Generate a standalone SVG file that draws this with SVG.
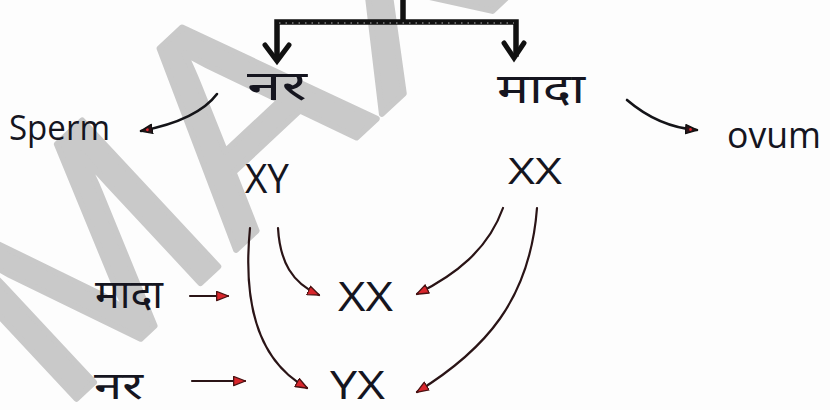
<svg xmlns="http://www.w3.org/2000/svg" width="830" height="410" viewBox="0 0 830 410">
  <style>
    .lbl { font-family: "Noto Sans", "DejaVu Sans", sans-serif; fill: #15151f; }
    .lat { font-family: "Open Sans", "Liberation Sans", sans-serif; fill: #15151f; }
    .wire { fill: none; stroke: #2a1416; stroke-width: 2.2; stroke-linecap: round; }
    .ink { fill: none; stroke: #141418; stroke-width: 2.6; stroke-linecap: round; }
    .bar { fill: none; stroke: #111; stroke-width: 5.5; stroke-linecap: square; stroke-linejoin: miter; }
  </style>
  <defs>
    <marker id="redTip" viewBox="0 0 12 10" refX="11" refY="5" markerWidth="13" markerHeight="11" markerUnits="userSpaceOnUse" orient="auto">
      <path d="M0.5,0.8 L11.5,5 L0.5,9.2 Z" fill="#d9262c" stroke="#4a1212" stroke-width="1.2" stroke-linejoin="round"/>
    </marker>
    <marker id="darkTip" viewBox="0 0 12 10" refX="11" refY="5" markerWidth="13" markerHeight="11" markerUnits="userSpaceOnUse" orient="auto">
      <path d="M0.5,0.8 L11.5,5 L0.5,9.2 Z" fill="#2a1418" stroke="#111" stroke-width="1.2" stroke-linejoin="round"/>
      <circle cx="5" cy="5" r="1.3" fill="#d9262c"/>
    </marker>
  </defs>

  <rect width="830" height="410" fill="#fdfdfd"/>

  <!-- faint watermark lettering behind the sketch -->
  <g id="watermark">
    <text x="59" y="415" transform="rotate(-43 59 415)" font-family="Liberation Sans, sans-serif" font-size="290" fill="#c9c9c9" stroke="#c9c9c9" stroke-width="6" stroke-linejoin="round">MAX</text>
  </g>

  <!-- split bracket at the top -->
  <g id="bracket">
    <path class="bar" d="M403,0 L403,21"/>
    <path class="bar" d="M277,58 L277,22 L516,22 L516,54"/>
    <path d="M279,23 L514,23" stroke="#ffffff" stroke-width="1" stroke-dasharray="1.5 5" opacity="0.7"/>
    <path d="M265,45 L277,61 L289,45" fill="none" stroke="#111" stroke-width="5" stroke-linejoin="miter" stroke-linecap="round"/>
    <path d="M504,43 L514,58 L524,43" fill="none" stroke="#111" stroke-width="5" stroke-linejoin="miter" stroke-linecap="round"/>
  </g>

  <g id="nar-top"><text class="lbl" x="247" y="100" font-size="42" textLength="60" lengthAdjust="spacingAndGlyphs">नर</text></g>
  <g id="mada-top"><text class="lbl" x="497" y="103" font-size="42" textLength="88" lengthAdjust="spacingAndGlyphs">मादा</text></g>
  <g id="sperm"><text class="lat" x="9" y="140" font-size="34" textLength="101" lengthAdjust="spacingAndGlyphs">Sperm</text></g>
  <g id="ovum"><text class="lat" x="727" y="148" font-size="37" textLength="94" lengthAdjust="spacingAndGlyphs">ovum</text></g>
  <g id="xy"><text class="lat" x="245" y="193" font-size="40" textLength="44" lengthAdjust="spacingAndGlyphs">XY</text></g>
  <g id="xx-top"><text class="lat" x="508" y="184" font-size="36" textLength="54" lengthAdjust="spacingAndGlyphs">XX</text></g>
  <g id="mada-left"><text class="lbl" x="95" y="308" font-size="40" textLength="68" lengthAdjust="spacingAndGlyphs">मादा</text></g>
  <g id="nar-left"><text class="lbl" x="94" y="399" font-size="38" textLength="49" lengthAdjust="spacingAndGlyphs">नर</text></g>
  <g id="xx-mid"><text class="lat" x="338" y="311" font-size="40" textLength="55" lengthAdjust="spacingAndGlyphs">XX</text></g>
  <g id="yx"><text class="lat" x="330" y="399" font-size="38" textLength="55" lengthAdjust="spacingAndGlyphs">YX</text></g>

  <g id="connectors">
    <path class="ink" d="M217,94 C202,114 172,125 141,131" marker-end="url(#darkTip)"/>
    <path class="ink" d="M627,100 C648,118 670,128 697,130" marker-end="url(#darkTip)"/>
    <path class="wire" d="M250,228 C243,300 256,360 307,388" marker-end="url(#redTip)"/>
    <path class="wire" d="M278,228 C280,262 292,283 319,295" marker-end="url(#redTip)"/>
    <path class="wire" d="M503,208 C488,250 455,275 417,294" marker-end="url(#redTip)"/>
    <path class="wire" d="M537,208 C530,300 485,350 417,392" marker-end="url(#redTip)"/>
    <path class="wire" d="M190,296 L228,296" marker-end="url(#redTip)"/>
    <path class="wire" d="M192,381 L245,381" marker-end="url(#redTip)"/>
  </g>
</svg>
